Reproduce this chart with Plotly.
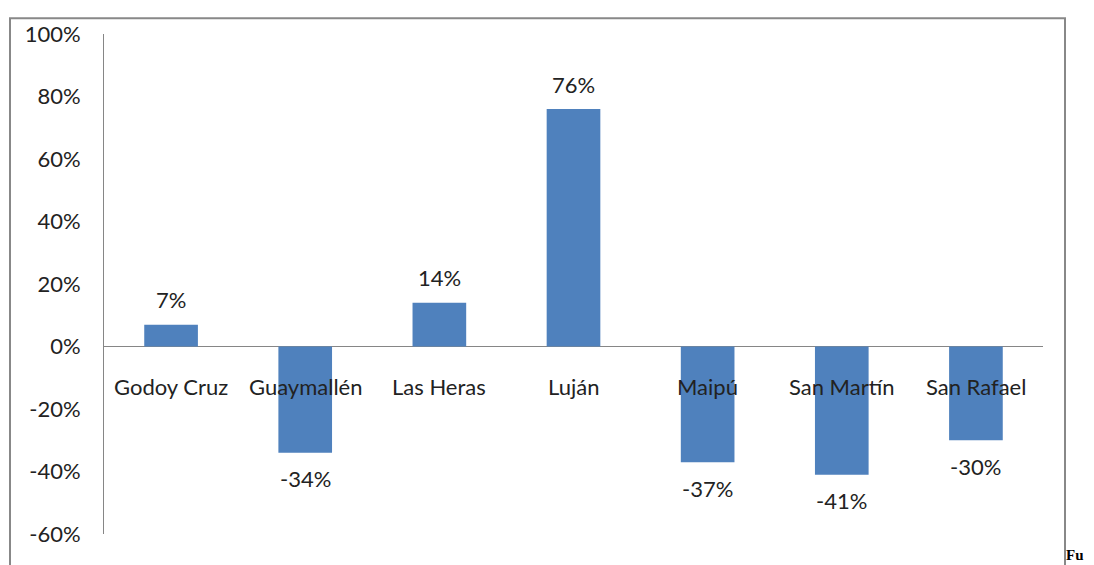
import plotly.graph_objects as go

categories = ["Godoy Cruz", "Guaymallén", "Las Heras", "Luján", "Maipú", "San Martín", "San Rafael"]
values = [0.07, -0.34, 0.14, 0.76, -0.37, -0.41, -0.30]
value_labels = ["7%", "-34%", "14%", "76%", "-37%", "-41%", "-30%"]
tick_vals = [-0.6, -0.4, -0.2, 0.0, 0.2, 0.4, 0.6, 0.8, 1.0]
tick_text = ["-60%", "-40%", "-20%", "0%", "20%", "40%", "60%", "80%", "100%"]

# page body has an 8px default margin; positions below are in page pixels
OFF = 8
W, H = 1094 - OFF, 565 - OFF
L, R, T, B = 104 - OFF, 1043 - OFF, 27 - OFF, 534 - OFF

fig = go.Figure()
fig.add_trace(go.Bar(
    x=categories, y=values,
    marker=dict(color="#4F81BD", line=dict(width=0)),
    width=0.4,
    hoverinfo="skip",
))

font = dict(family="Lato, 'Open Sans', sans-serif", size=22, color="#222222")

annotations = []
for c, v, t in zip(categories, values, value_labels):
    annotations.append(dict(
        x=c, y=v, xref="x", yref="y", text=t, showarrow=False,
        font=font, yshift=25 if v >= 0 else -26,
    ))
    annotations.append(dict(
        x=c, y=0, xref="x", yref="y", text=c, showarrow=False,
        font=font, yshift=-40,
    ))

pw = R - L
ph = B - T
annotations.append(dict(
    x=(1065 - OFF - L) / pw, y=(B - (564 - OFF)) / ph, xref="paper", yref="paper",
    text="<b>Fu</b>", showarrow=False, xanchor="left", yanchor="bottom",
    font=dict(family="'Liberation Serif', serif", size=15, color="#000"),
    borderpad=0,
))

fig.update_layout(
    width=W, height=H, autosize=False,
    margin=dict(l=L, r=W - R, t=T, b=H - B, pad=0),
    paper_bgcolor="white", plot_bgcolor="white",
    showlegend=False,
    bargap=0.6,
    xaxis=dict(showticklabels=False, showline=False, showgrid=False, zeroline=False,
               ticks=""),
    yaxis=dict(range=[-0.6, 1.0], tickvals=tick_vals, ticktext=tick_text,
               showgrid=False, zeroline=True, zerolinecolor="#868686", zerolinewidth=1,
               showline=True, linecolor="#868686", linewidth=1,
               ticks="outside", ticklen=18, tickcolor="rgba(0,0,0,0)",
               tickfont=font),
    annotations=annotations,
    shapes=[dict(type="rect", xref="paper", yref="paper",
                 x0=(10 - OFF - L) / pw, x1=(1065 - OFF - L) / pw,
                 y0=(B - 620) / ph, y1=(B - (11 - OFF)) / ph,
                 line=dict(color="#888888", width=2), fillcolor="rgba(0,0,0,0)",
                 layer="below")],
)

fig.write_html("out.html")
